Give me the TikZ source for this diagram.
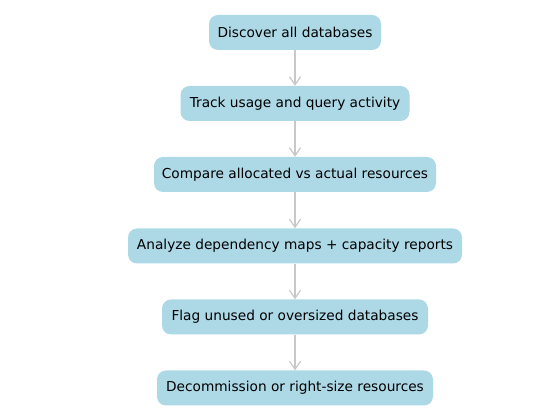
\documentclass[tikz,border=0pt]{standalone}
\usepackage{fontspec}
\setmainfont{DejaVu Sans}
\usetikzlibrary{arrows.meta}
\definecolor{boxfill}{HTML}{ADD8E6}
\definecolor{arrowgray}{HTML}{C8C8C8}
\tikzset{
  stepbox/.style={draw=none, fill=boxfill, rounded corners=9pt, minimum height=35pt, inner xsep=4pt, font=\fontsize{13.7}{16}\selectfont, text=black},
  flow/.style={draw=arrowgray, line width=1.2pt, -{Straight Barb[length=8pt,width=11pt,line width=1.2pt]}}
}
\begin{document}
\begin{tikzpicture}[x=1pt,y=1pt]
\useasboundingbox (0,0) rectangle (539,415);
\node[stepbox, minimum width=172pt] (n1) at (295,382.5) {Discover all databases};
\node[stepbox, minimum width=229pt] (n2) at (295,311.5) {Track usage and query activity};
\node[stepbox, minimum width=282pt] (n3) at (295,240.5) {Compare allocated vs actual resources};
\node[stepbox, minimum width=334pt] (n4) at (295,169) {Analyze dependency maps + capacity reports};
\node[stepbox, minimum width=266pt] (n5) at (295,98) {Flag unused or oversized databases};
\node[stepbox, minimum width=276pt] (n6) at (295,27) {Decommission or right-size resources};
\draw[flow] (n1) -- (n2);
\draw[flow] (n2) -- (n3);
\draw[flow] (n3) -- (n4);
\draw[flow] (n4) -- (n5);
\draw[flow] (n5) -- (n6);
\end{tikzpicture}
\end{document}
